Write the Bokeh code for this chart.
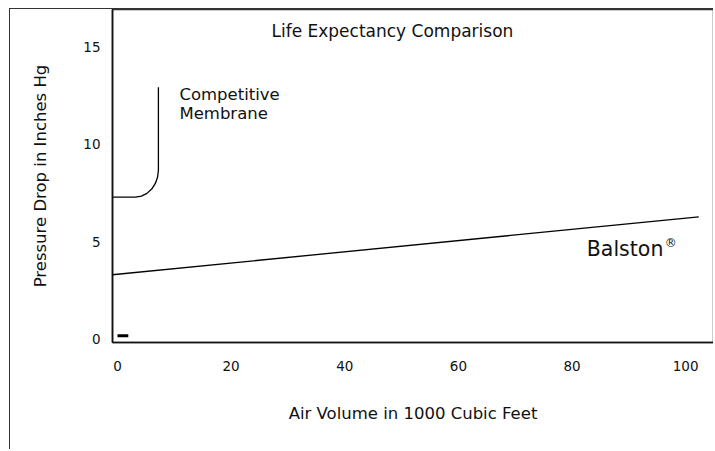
from bokeh.plotting import figure
from bokeh.models import Range1d, FixedTicker, Label
from bokeh.embed import file_html
from bokeh.resources import INLINE

FONT = "DejaVu Sans"

# ---- data ----
x_ticks = [0, 20, 40, 60, 80, 100]
y_ticks = [0, 5, 10, 15]

membrane_x = [-0.9, 1.0, 3.16, 4.21, 5.18, 6.02, 6.66, 7.06, 7.20, 7.20]
membrane_y = [7.29, 7.29, 7.29, 7.34, 7.48, 7.70, 7.99, 8.32, 8.68, 12.95]

balston_x = [-0.9, 102.3]
balston_y = [3.29, 6.27]

origin_mark_x = [0.0, 1.9]
origin_mark_y = [0.15, 0.15]

p = figure(width=704, height=441, output_backend="svg", toolbar_location=None,
           x_range=Range1d(-0.88, 104.9), y_range=Range1d(-0.2, 16.95),
           min_border_left=102, min_border_right=1, min_border_top=0,
           min_border_bottom=108)

# outer page frame: left and top edges drawn as CSS borders of the figure
p.styles = {"margin-left": "9px", "margin-top": "8px",
            "border-left": "1.5px solid #333333",
            "border-top": "1.5px solid #333333"}

p.grid.visible = False
p.outline_line_color = "#333333"
p.outline_line_width = 1.5
p.background_fill_color = "white"
p.border_fill_color = "white"

for ax in (p.xaxis[0], p.yaxis[0]):
    ax.axis_line_color = "#111111"
    ax.axis_line_width = 1.6
    ax.major_tick_out = 0
    ax.major_tick_in = 0
    ax.minor_tick_out = 0
    ax.minor_tick_in = 0
    ax.major_label_text_font = FONT
    ax.major_label_text_font_size = "13.5px"
    ax.major_label_text_color = "#111111"
    ax.axis_label_text_font = FONT
    ax.axis_label_text_font_size = "16.5px"
    ax.axis_label_text_font_style = "normal"
    ax.axis_label_text_color = "#111111"

p.xaxis[0].ticker = FixedTicker(ticks=x_ticks)
p.yaxis[0].ticker = FixedTicker(ticks=y_ticks)
p.xaxis[0].major_label_standoff = 18
p.yaxis[0].major_label_standoff = 12
p.xaxis[0].axis_label = "Air Volume in 1000 Cubic Feet"
p.yaxis[0].axis_label = "Pressure Drop in Inches Hg"
p.xaxis[0].axis_label_standoff = 30
p.yaxis[0].axis_label_standoff = 30

p.line(membrane_x, membrane_y, line_color="black", line_width=1.3)
p.line(balston_x, balston_y, line_color="black", line_width=1.3)
p.line(origin_mark_x, origin_mark_y, line_color="black", line_width=3)

p.add_layout(Label(x=27.1, y=15.84, text="Life Expectancy Comparison",
                   text_font=FONT, text_font_size="17px", text_color="#111111",
                   text_baseline="alphabetic", text_align="left"))
p.add_layout(Label(x=10.9, y=12.58, text="Competitive",
                   text_font=FONT, text_font_size="16.5px", text_color="#111111",
                   text_baseline="alphabetic", text_align="left"))
p.add_layout(Label(x=10.9, y=11.59, text="Membrane",
                   text_font=FONT, text_font_size="16.5px", text_color="#111111",
                   text_baseline="alphabetic", text_align="left"))
p.add_layout(Label(x=82.6, y=4.6, text="Balston",
                   text_font=FONT, text_font_size="20.5px", text_color="#111111",
                   text_baseline="alphabetic", text_align="left"))
p.add_layout(Label(x=82.6, y=4.6, x_offset=78, y_offset=6, text="®",
                   text_font=FONT, text_font_size="12px", text_color="#111111",
                   text_baseline="alphabetic", text_align="left"))

open("out.html", "w").write(file_html(p, INLINE))
